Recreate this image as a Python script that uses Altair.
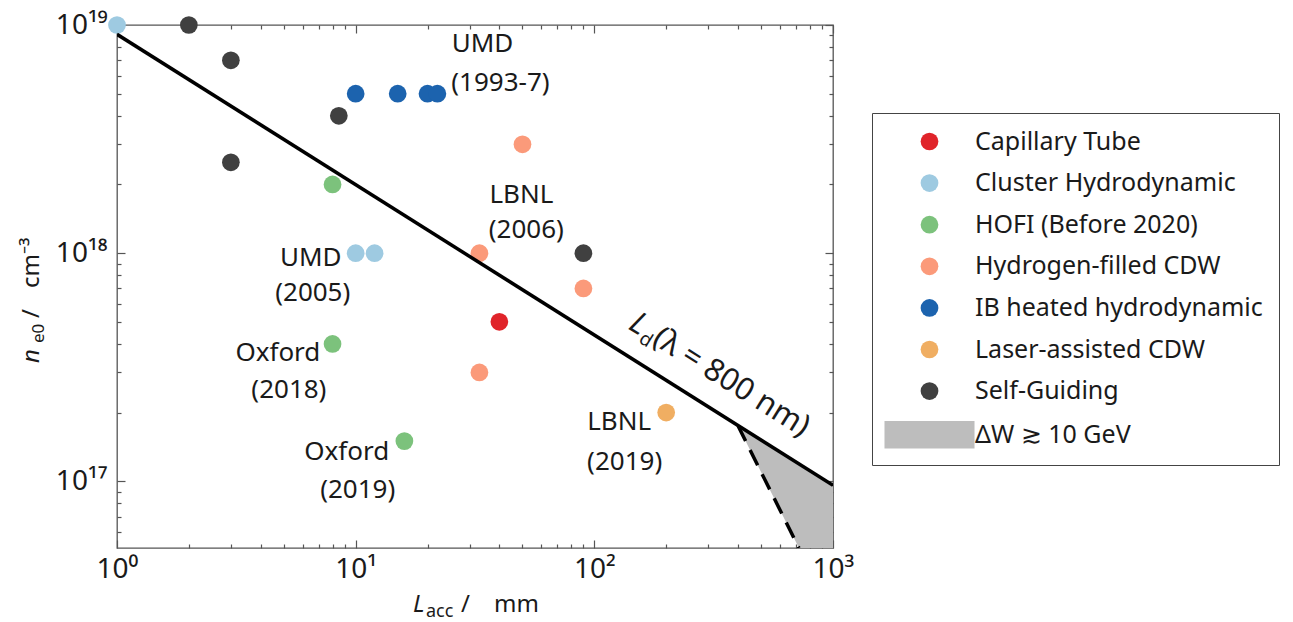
import altair as alt
import pandas as pd

FONT = "Noto Sans"
TXT = "#1a1a1a"
FRAME = "#555555"

# ---------------- data ----------------
categories = ["Capillary Tube", "Cluster Hydrodynamic", "HOFI (Before 2020)",
              "Hydrogen-filled CDW", "IB heated hydrodynamic", "Laser-assisted CDW",
              "Self-Guiding"]
area_label = "ΔW ≳ 10 GeV"
colors = ["#e0242a", "#9ecae1", "#7cc27c", "#fb9a7a", "#1c63ae", "#f0ae62", "#404040"]
area_color = "#bdbdbd"

pt_cat = ["Capillary Tube",
          "Cluster Hydrodynamic", "Cluster Hydrodynamic", "Cluster Hydrodynamic",
          "HOFI (Before 2020)", "HOFI (Before 2020)", "HOFI (Before 2020)",
          "Hydrogen-filled CDW", "Hydrogen-filled CDW", "Hydrogen-filled CDW", "Hydrogen-filled CDW",
          "IB heated hydrodynamic", "IB heated hydrodynamic", "IB heated hydrodynamic", "IB heated hydrodynamic",
          "Laser-assisted CDW",
          "Self-Guiding", "Self-Guiding", "Self-Guiding", "Self-Guiding", "Self-Guiding"]
pt_x = [40,
        1, 10, 12,
        8, 8, 16,
        50, 33, 90, 33,
        10, 15, 20, 22,
        200,
        2, 3, 3, 8.5, 90]
pt_y = [5e17,
        1e19, 1e18, 1e18,
        2e18, 4e17, 1.5e17,
        3e18, 1e18, 7e17, 3e17,
        5e18, 5e18, 5e18, 5e18,
        2e17,
        1e19, 7e18, 2.5e18, 4e18, 1e18]

# dephasing-length line  L_d(lambda = 800 nm)
line_x = [1, 1000]
line_y = [9.1e18, 9.6e16]
# dashed boundary of the Delta W >~ 10 GeV region
dash_x = [400, 720]
dash_y = [1.75e17, 5.1e16]
# shaded region
area_x = [400, 720, 1000]
area_lo = [1.75e17, 5.1e16, 5.1e16]
area_hi = [1.75e17, 1.19e17, 9.6e16]

# annotations (one row per text line)
ann_text = ["UMD", "(1993-7)", "LBNL", "(2006)", "UMD", "(2005)",
            "Oxford", "(2018)", "Oxford", "(2019)", "LBNL", "(2019)"]
ann_x = [34.0, 40.4, 49.5, 51.9, 6.48, 6.61, 4.72, 5.25, 9.17, 10.2, 127, 134]
ann_y = [8.25e18, 5.57e18, 1.80e18, 1.26e18, 9.5e17, 6.68e17,
         3.64e17, 2.51e17, 1.34e17, 9.2e16, 1.81e17, 1.22e17]

# label of the line
ld_x = [137.4]
ld_y = [4.69e17]

x_domain = [1, 1000]
y_domain = [5.1e16, 1e19]
x_major = [1, 10, 100, 1000]
y_major = [1e17, 1e18, 1e19]
x_minor = [m * 10 ** e for e in range(0, 3) for m in range(2, 10)]
y_minor = [m * 1e16 for m in range(6, 10)] + [m * 10 ** e for e in (17, 18) for m in range(2, 10)]

W, H = 716, 523

# ---------------- scales / axes ----------------
xs = alt.Scale(type="log", domain=x_domain, nice=False, zero=False)
ys = alt.Scale(type="log", domain=y_domain, nice=False, zero=False)


def tick_axis(orient, offset, values, size):
    return alt.Axis(orient=orient, offset=offset, values=values, labels=False,
                    domain=False, grid=False, ticks=True, tickSize=size,
                    tickColor=FRAME, tickWidth=1.2, title=None)


x_label_axis = alt.Axis(orient="bottom", values=x_major, ticks=False, domain=False, grid=False,
                        title=None, labelFont=FONT, labelFontSize=28, labelColor=TXT,
                        labelPadding=7, labelFlush=False, labelOverlap=False,
                        labelExpr="datum.value < 5 ? '10⁰' : datum.value < 50 ? '10¹' : datum.value < 500 ? '10²' : '10³'")
y_label_axis = alt.Axis(orient="left", values=y_major, ticks=False, domain=False, grid=False,
                        title=None, labelFont=FONT, labelFontSize=28, labelColor=TXT,
                        labelPadding=10, labelFlush=False, labelOverlap=False,
                        labelExpr="datum.value > 5e18 ? '10¹⁹' : datum.value > 5e17 ? '10¹⁸' : '10¹⁷'")

legend_domain = categories + [area_label]
legend_range = colors + [area_color]
rect_path = "M-5.08,-1.55L5.08,-1.55L5.08,1.55L-5.08,1.55Z"
shape_range = ["circle"] * len(categories) + [rect_path]

legend = alt.Legend(title=None, orient="none", legendX=755, legendY=88,
                    labelFont=FONT, labelFontSize=25, labelColor=TXT, labelLimit=500,
                    symbolSize=314, symbolStrokeWidth=0, symbolOpacity=1,
                    symbolOffset=29, labelOffset=33, padding=16, rowPadding=15.6,
                    strokeColor="#444444", fillColor="white")

# ---------------- layers ----------------
pts_df = pd.DataFrame({"cat": pt_cat, "x": pt_x, "y": pt_y})
line_df = pd.DataFrame({"x": line_x, "y": line_y})
dash_df = pd.DataFrame({"x": dash_x, "y": dash_y})
area_df = pd.DataFrame({"x": area_x, "lo": area_lo, "hi": area_hi})
ann_df = pd.DataFrame({"t": ann_text, "x": ann_x, "y": ann_y})
ld_df = pd.DataFrame({"x": ld_x, "y": ld_y})

area = alt.Chart(area_df).mark_area(color=area_color, opacity=1, clip=True).encode(
    x=alt.X("x:Q", scale=xs, axis=tick_axis("bottom", -H, x_major, 8)),
    y=alt.Y("lo:Q", scale=ys, axis=tick_axis("right", -W, y_major, 8)),
    y2="hi:Q",
)

points = alt.Chart(pts_df).mark_point(filled=True, size=314, opacity=1, strokeWidth=0).encode(
    x=alt.X("x:Q", scale=xs, axis=x_label_axis),
    y=alt.Y("y:Q", scale=ys, axis=y_label_axis),
    color=alt.Color("cat:N", scale=alt.Scale(domain=legend_domain, range=legend_range), legend=legend),
    shape=alt.Shape("cat:N", scale=alt.Scale(domain=legend_domain, range=shape_range), legend=legend),
)

solid = alt.Chart(line_df).mark_line(color="black", strokeWidth=3.5, clip=True).encode(
    x=alt.X("x:Q", scale=xs, axis=tick_axis("top", -H, x_major, 8)),
    y=alt.Y("y:Q", scale=ys, axis=tick_axis("left", -W, y_major, 8)),
)

dashed = alt.Chart(dash_df).mark_line(color="black", strokeWidth=3.5, strokeDash=[17, 10], clip=True).encode(
    x=alt.X("x:Q", scale=xs, axis=tick_axis("bottom", -H, x_minor, 4)),
    y=alt.Y("y:Q", scale=ys, axis=tick_axis("right", -W, y_minor, 4)),
)

ann = alt.Chart(ann_df).mark_text(font=FONT, fontSize=26, color=TXT, align="center", baseline="middle").encode(
    x=alt.X("x:Q", scale=xs, axis=tick_axis("top", -H, x_minor, 4)),
    y=alt.Y("y:Q", scale=ys, axis=tick_axis("left", -W, y_minor, 4)),
    text="t:N",
)


def ld_piece(txt, size, dx, dy, italic=False):
    kw = dict(font=FONT, fontSize=size, color=TXT, align="left", baseline="alphabetic",
              angle=32, dx=dx, dy=dy, text=txt)
    if italic:
        kw["fontStyle"] = "italic"
    return alt.Chart(ld_df).mark_text(**kw).encode(
        x=alt.X("x:Q", scale=xs, axis=None),
        y=alt.Y("y:Q", scale=ys, axis=None),
    )


ld_L = ld_piece("L", 31, 0, 0, italic=True)
ld_d = ld_piece("d", 19, 16, 6)
ld_rest = ld_piece("(λ = 800 nm)", 31, 28, 0)

title_df = pd.DataFrame({"k": [0]})


def title_piece(txt, size, px, py, angle=0, italic=False):
    kw = dict(font=FONT, fontSize=size, color=TXT, align="left", baseline="alphabetic", text=txt)
    if angle:
        kw["angle"] = angle
    if italic:
        kw["fontStyle"] = "italic"
    return alt.Chart(title_df).mark_text(**kw).encode(x=alt.value(px), y=alt.value(py))


xt = [
    title_piece("L", 24, 296, 587, italic=True),
    title_piece("acc", 18, 309, 592),
    title_piece("/", 24, 344, 587),
    title_piece("mm", 24, 377, 587),
]
yt = [
    title_piece("n", 24, -78, 338, angle=270, italic=True),
    title_piece("e0", 17, -73, 318, angle=270),
    title_piece("/", 24, -78, 293, angle=270),
    title_piece("cm⁻³", 24, -78, 263, angle=270),
]

chart = alt.layer(area, points, solid, dashed, ann, ld_L, ld_d, ld_rest, *xt, *yt).resolve_axis(
    x="independent", y="independent"
).properties(
    width=W, height=H,
    padding={"left": 117, "top": 25, "right": 460, "bottom": 74},
    autosize=alt.AutoSizeParams(type="none"),
    background="white",
).configure_view(stroke=FRAME, strokeWidth=1.3)

chart.save("out.html", embed_options={"renderer": "svg", "actions": False})
